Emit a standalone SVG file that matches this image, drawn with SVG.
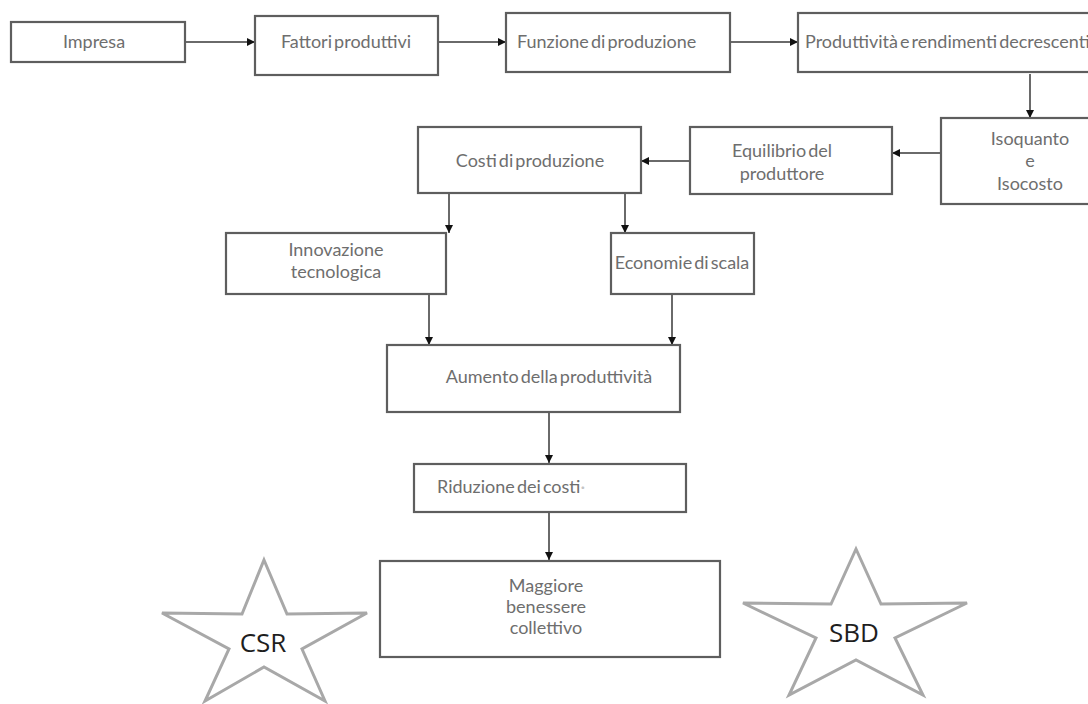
<svg xmlns="http://www.w3.org/2000/svg" width="1088" height="704" viewBox="0 0 1088 704">
  <style>
    .box { fill: #ffffff; stroke: #5e5e5e; stroke-width: 2.2; }
    .lbl { font-family: Lato, "Open Sans", sans-serif; font-size: 18px; word-spacing: -2.5px; fill: #6e6e6e; }
    .mid { text-anchor: middle; }
    .conn { stroke: #6a6a6a; stroke-width: 2; fill: none; marker-end: url(#arrow); }
    .star { fill: #ffffff; stroke: #a8a8a8; stroke-width: 3; stroke-linejoin: miter; }
    .starlbl { font-family: "Open Sans", Lato, sans-serif; font-size: 26px; fill: #1e1e1e; text-anchor: middle; }
  </style>
  <defs>
    <marker id="arrow" markerUnits="userSpaceOnUse" markerWidth="9" markerHeight="8" refX="8" refY="4" orient="auto">
      <path d="M0,0 L8,4 L0,8 Z" fill="#111111"/>
    </marker>
  </defs>
  <rect width="1088" height="704" fill="#ffffff"/>

  <!-- connectors -->
  <g id="connectors">
    <line class="conn" x1="185" y1="42" x2="255" y2="42"/>
    <line class="conn" x1="438" y1="42" x2="506" y2="42"/>
    <line class="conn" x1="730" y1="42" x2="798" y2="42"/>
    <line class="conn" x1="1030" y1="74" x2="1030" y2="118"/>
    <line class="conn" x1="941" y1="153" x2="892" y2="153"/>
    <line class="conn" x1="690" y1="161" x2="641" y2="161"/>
    <line class="conn" x1="449" y1="193" x2="449" y2="233"/>
    <line class="conn" x1="625" y1="193" x2="625" y2="233"/>
    <line class="conn" x1="429" y1="294" x2="429" y2="345"/>
    <line class="conn" x1="672" y1="294" x2="672" y2="345"/>
    <line class="conn" x1="549" y1="412" x2="549" y2="463"/>
    <line class="conn" x1="549" y1="511" x2="549" y2="560"/>
  </g>

  <g id="impresa">
    <rect class="box" x="11" y="22" width="174" height="40"/>
    <text class="lbl mid" x="94" y="48">Impresa</text>
  </g>
  <g id="fattori">
    <rect class="box" x="255" y="16" width="183" height="59"/>
    <text class="lbl mid" x="346" y="48">Fattori produttivi</text>
  </g>
  <g id="funzione">
    <rect class="box" x="506" y="13" width="224" height="59"/>
    <text class="lbl" x="517" y="48">Funzione di produzione</text>
  </g>
  <g id="produttivita">
    <rect class="box" x="798" y="13" width="310" height="59"/>
    <text class="lbl" x="805" y="48">Produttività e rendimenti decrescenti</text>
  </g>
  <g id="isoquanto">
    <rect class="box" x="941" y="118" width="170" height="86"/>
    <text class="lbl mid" x="1030" y="145">Isoquanto</text>
    <text class="lbl mid" x="1030" y="167">e</text>
    <text class="lbl mid" x="1030" y="190">Isocosto</text>
  </g>
  <g id="equilibrio">
    <rect class="box" x="690" y="127" width="202" height="67"/>
    <text class="lbl mid" x="782" y="157">Equilibrio del</text>
    <text class="lbl mid" x="782" y="180">produttore</text>
  </g>
  <g id="costi">
    <rect class="box" x="418" y="127" width="223" height="66"/>
    <text class="lbl mid" x="530" y="167">Costi di produzione</text>
  </g>
  <g id="innovazione">
    <rect class="box" x="226" y="233" width="220" height="61"/>
    <text class="lbl mid" x="336" y="256">Innovazione</text>
    <text class="lbl mid" x="336" y="278">tecnologica</text>
  </g>
  <g id="economie">
    <rect class="box" x="611" y="233" width="143" height="61"/>
    <text class="lbl mid" x="682" y="269">Economie di scala</text>
  </g>
  <g id="aumento">
    <rect class="box" x="387" y="345" width="293" height="67"/>
    <text class="lbl mid" x="549" y="383">Aumento della produttività</text>
  </g>
  <g id="riduzione">
    <rect class="box" x="414" y="464" width="272" height="48"/>
    <text class="lbl" x="437" y="493">Riduzione dei costi<tspan fill="#c4c4c4">·</tspan></text>
  </g>
  <g id="benessere">
    <rect class="box" x="380" y="561" width="340" height="96"/>
    <text class="lbl mid" x="546" y="592">Maggiore</text>
    <text class="lbl mid" x="546" y="613">benessere</text>
    <text class="lbl mid" x="546" y="634">collettivo</text>
  </g>

  <g id="csr">
    <polygon class="star" points="264,560 287,614 367,613 302,649 325,701 264,667 205,701 229,649 162,613 242,614"/>
    <text class="starlbl" x="263" y="652">CSR</text>
  </g>
  <g id="sbd">
    <polygon class="star" points="856,549 881,604 967,603 895,638 923,695 856,660 789,695 816,638 743,603 831,604"/>
    <text class="starlbl" x="854" y="642">SBD</text>
  </g>
</svg>
